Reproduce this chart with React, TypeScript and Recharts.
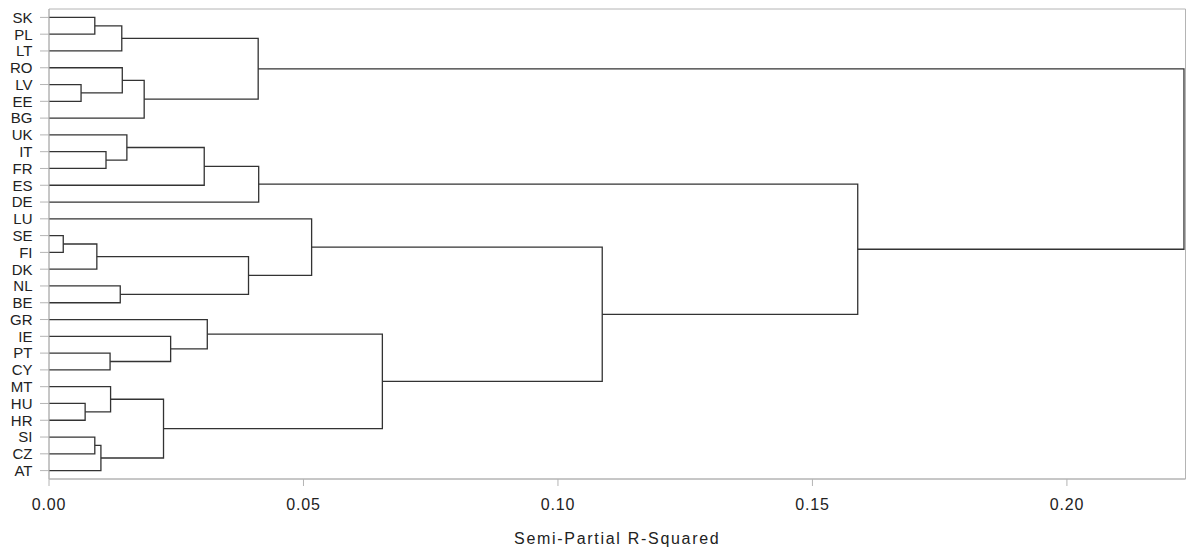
import { LineChart, Line, XAxis, YAxis, ReferenceArea } from 'recharts';

// leaf order top to bottom
const leaves = [
  'SK', 'PL', 'LT', 'RO', 'LV', 'EE', 'BG', 'UK', 'IT', 'FR', 'ES', 'DE', 'LU', 'SE',
  'FI', 'DK', 'NL', 'BE', 'GR', 'IE', 'PT', 'CY', 'MT', 'HU', 'HR', 'SI', 'CZ', 'AT',
];

// joins in order, clusters named CL1..CL27 (left, right, semi-partial R^2)
const joins: [string, string, number][] = [
  ['SK', 'PL', 0.009],
  ['CL1', 'LT', 0.0143],
  ['LV', 'EE', 0.0063],
  ['RO', 'CL3', 0.0144],
  ['CL4', 'BG', 0.0187],
  ['CL2', 'CL5', 0.0411],
  ['IT', 'FR', 0.0112],
  ['UK', 'CL7', 0.0153],
  ['CL8', 'ES', 0.0305],
  ['CL9', 'DE', 0.0412],
  ['SE', 'FI', 0.0028],
  ['CL11', 'DK', 0.0094],
  ['NL', 'BE', 0.014],
  ['CL12', 'CL13', 0.0392],
  ['LU', 'CL14', 0.0516],
  ['PT', 'CY', 0.012],
  ['IE', 'CL16', 0.0239],
  ['GR', 'CL17', 0.0311],
  ['HU', 'HR', 0.0071],
  ['MT', 'CL19', 0.0121],
  ['SI', 'CZ', 0.009],
  ['CL21', 'AT', 0.0102],
  ['CL20', 'CL22', 0.0225],
  ['CL18', 'CL23', 0.0655],
  ['CL15', 'CL24', 0.1087],
  ['CL10', 'CL25', 0.1589],
  ['CL6', 'CL26', 0.223],
];

const xTicks = [0, 0.05, 0.1, 0.15, 0.2];
const xMax = 0.2233;

const nodes: Record<string, { y: number; h: number }> = {};
leaves.forEach((name, i) => {
  nodes[name] = { y: i, h: 0 };
});
const links = joins.map(([a, b, h], i) => {
  const l = nodes[a];
  const r = nodes[b];
  nodes['CL' + (i + 1)] = { y: (l.y + r.y) / 2, h };
  return [
    { x: l.h, y: l.y },
    { x: h, y: l.y },
    { x: h, y: r.y },
    { x: r.h, y: r.y },
  ];
});

const font = '"Liberation Sans", Arial, sans-serif';
const axisGray = '#b4b4b4';

export default function App() {
  return (
    <div style={{ position: 'absolute', left: 0, top: 0 }}>
      <LineChart
        width={1189}
        height={549}
        margin={{ top: 9, right: 3.5, left: 0, bottom: 0 }}
        style={{ fontFamily: font }}
      >
        <XAxis
          type='number'
          dataKey='x'
          domain={[0, xMax]}
          ticks={xTicks}
          allowDataOverflow
          tickFormatter={(v: number) => v.toFixed(2)}
          height={70}
          tickSize={7}
          tickMargin={13}
          axisLine={{ stroke: axisGray }}
          tickLine={{ stroke: axisGray }}
          tick={{ fontSize: 16, fill: '#222', letterSpacing: 0.8 }}
          label={{
            value: 'Semi-Partial R-Squared',
            position: 'insideBottom',
            offset: 5,
            fontSize: 16,
            fill: '#222',
            letterSpacing: 1.7,
          }}
        />
        <YAxis
          type='number'
          dataKey='y'
          domain={[-0.5, leaves.length - 0.5]}
          ticks={leaves.map((_, i) => i)}
          interval={0}
          reversed
          width={49}
          tickSize={9}
          tickMargin={7.5}
          tickFormatter={(v: number) => leaves[v]}
          axisLine={{ stroke: axisGray }}
          tickLine={{ stroke: axisGray }}
          tick={{ fontSize: 15, fill: '#222' }}
        />
        <ReferenceArea
          x1={0}
          x2={xMax}
          y1={-0.5}
          y2={leaves.length - 0.5}
          fill='none'
          stroke={axisGray}
        />
        {links.map((pts, i) => (
          <Line
            key={i}
            data={pts}
            dataKey='y'
            type='linear'
            stroke='#333'
            strokeWidth={1.3}
            dot={false}
            isAnimationActive={false}
          />
        ))}
      </LineChart>
    </div>
  );
}
